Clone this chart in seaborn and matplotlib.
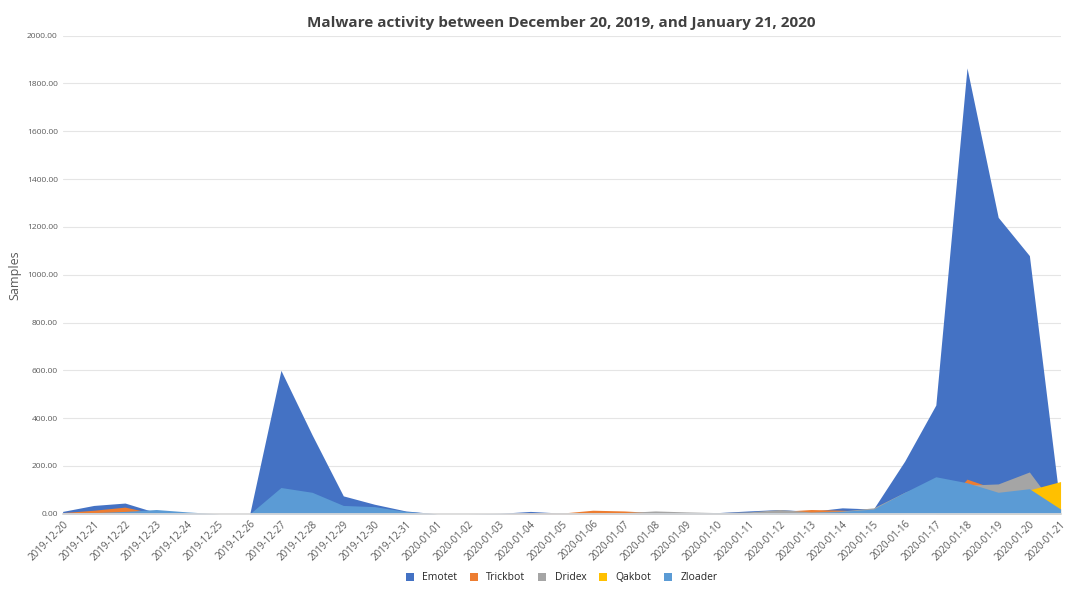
import matplotlib
matplotlib.use("Agg")
import matplotlib.pyplot as plt
import seaborn as sns
import pandas as pd

dates = (["2019-12-%d" % d for d in range(20, 32)]
         + ["2020-01-%02d" % d for d in range(1, 22)])

emotet = [10, 35, 45, 5, 3, 0, 0, 600, 330, 75, 40, 12,
          0, 0, 2, 10, 3, 5, 5, 5, 5, 5, 12, 18, 10, 25, 20, 220, 455, 1865, 1240, 1080, 20]
trickbot = [5, 15, 28, 0, 0, 0, 0, 0, 0, 0, 0, 0,
            0, 0, 0, 3, 3, 15, 12, 5, 3, 3, 5, 10, 18, 15, 10, 0, 0, 145, 100, 0, 0]
dridex = [0, 0, 0, 0, 0, 0, 0, 0, 0, 0, 0, 5,
          0, 0, 0, 0, 5, 3, 5, 12, 8, 5, 8, 18, 8, 12, 25, 90, 140, 120, 125, 175, 0]
qakbot = [0, 0, 0, 0, 0, 0, 0, 0, 0, 0, 0, 0,
          0, 0, 0, 0, 0, 0, 0, 0, 0, 0, 0, 0, 0, 0, 0, 0, 0, 0, 0, 100, 135]
zloader = [3, 5, 10, 18, 8, 0, 0, 110, 90, 35, 30, 10,
           0, 0, 0, 0, 0, 0, 0, 3, 3, 3, 3, 5, 5, 10, 20, 90, 155, 130, 90, 105, 20]

series = {"Emotet": emotet, "Trickbot": trickbot, "Dridex": dridex,
          "Qakbot": qakbot, "Zloader": zloader}
colors = {"Emotet": "#4472C4", "Trickbot": "#ED7D31", "Dridex": "#A5A5A5",
          "Qakbot": "#FFC000", "Zloader": "#5B9BD5"}

df = pd.DataFrame(series, index=dates)

sns.set_theme(style="whitegrid")
plt.rcParams.update({"font.family": "sans-serif",
                     "font.sans-serif": ["Open Sans", "DejaVu Sans"]})

fig, ax = plt.subplots(figsize=(10.8, 5.94), dpi=100)
x = range(len(dates))
for name in series:
    ax.fill_between(x, 0, df[name].values, color=colors[name], label=name, linewidth=0)

ax.set_xlim(0, len(dates) - 1)
ax.set_ylim(0, 2000)
ax.set_yticks(range(0, 2001, 200))
ax.set_yticklabels([f"{v:.2f}" for v in range(0, 2001, 200)], fontsize=6, color="#595959")
ax.set_xticks(list(x))
ax.set_xticklabels(dates, rotation=45, ha="right", rotation_mode="anchor", fontsize=7, color="#595959")
ax.set_ylabel("Samples", fontsize=9, color="#595959")
ax.set_title("Malware activity between December 20, 2019, and January 21, 2020",
             fontsize=11, fontweight="bold", color="#404040")
ax.grid(axis="x", visible=False)
ax.grid(axis="y", color="#E5E5E5", linewidth=0.8)
for s in ["top", "right", "left"]:
    ax.spines[s].set_visible(False)
ax.spines["bottom"].set_color("#D9D9D9")
ax.tick_params(axis="both", length=0)

ax.legend(loc="center", bbox_to_anchor=(0.5, -0.134), ncol=5, frameon=False,
          fontsize=7.5, handlelength=0.8, handleheight=0.8, columnspacing=1.2)
fig.subplots_adjust(left=0.058, right=0.982, top=0.94, bottom=0.135)
fig.savefig("out.png")
